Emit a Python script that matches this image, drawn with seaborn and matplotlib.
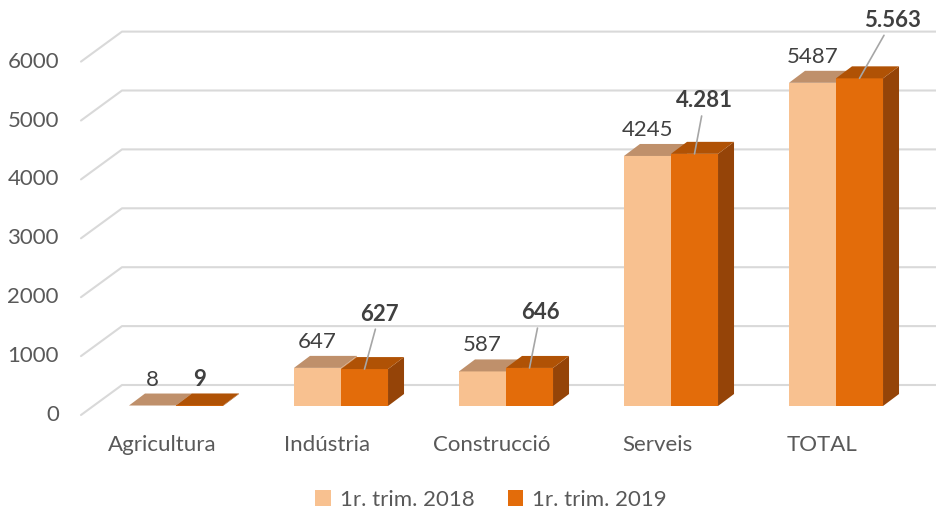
import numpy as np
import pandas as pd
import matplotlib
matplotlib.use("Agg")
import matplotlib.pyplot as plt
from matplotlib.patches import Polygon
import seaborn as sns

sectors = ["Agricultura", "Indústria", "Construcció", "Serveis", "TOTAL"]
periods = ["1r. trim. 2018", "1r. trim. 2019"]
values_2018 = [8, 647, 587, 4245, 5487]
values_2019 = [9, 627, 646, 4281, 5563]
labels_2018 = ["8", "647", "587", "4245", "5487"]
labels_2019 = ["9", "627", "646", "4.281", "5.563"]
yticks = [0, 1000, 2000, 3000, 4000, 5000, 6000]

front_colors = ["#F8C190", "#E36C0A"]
top_colors = ["#BF906B", "#B05205"]
side_colors = ["#D9A070", "#954408"]
# label offsets (pixels) for the 2019 labels, as placed by hand in the original
label_shift_2019 = [(0, 26), (15, 55), (11, 55), (10, 53), (33, 58)]

df = pd.DataFrame({
    "sector": sectors * 2,
    "period": [periods[0]] * len(sectors) + [periods[1]] * len(sectors),
    "value": values_2018 + values_2019,
})

sns.set_theme(style="white")
plt.rcParams["font.family"] = ["Lato", "DejaVu Sans"]

DPI = 100
FS = 16
fig = plt.figure(figsize=(9.36, 5.16), dpi=DPI)
ax = fig.add_axes([77 / 936, 110 / 516, 858 / 936, 353.4 / 516])
sns.barplot(data=df, x="sector", y="value", hue="period", order=sectors,
            hue_order=periods, palette=front_colors, width=0.57,
            saturation=1, linewidth=0, ax=ax)
ax.set_xlim(-0.6, 4.6)
ax.set_ylim(0, 6000)
ax.axis("off")

# pixel -> data unit conversion
p0 = ax.transData.transform((0, 0))
p1 = ax.transData.transform((1, 1000))
ux = p1[0] - p0[0]
uy = (p1[1] - p0[1]) / 1000
dx, dy = 16 / ux, 12 / uy
xl, xr = ax.get_xlim()

# back wall gridlines with the 3D floor diagonal
for t in yticks:
    xs = [xl + 4 / ux, xl + 45 / ux, xr + 1 / ux]
    ys = [t - 9 / uy, t + 21 / uy, t + 21 / uy]
    ax.plot(xs, ys, color="#D9D9D9", lw=1.5, zorder=0, clip_on=False)
    ax.text(xl - 18 / ux, t - 9 / uy, str(t), ha="right", va="center",
            fontsize=FS, color="#595959")

for i, name in enumerate(sectors):
    ax.text(i - 14 / ux, -39 / uy, name, ha="center", va="center",
            fontsize=FS, color="#595959")

# 3D faces on each bar
for k, cont in enumerate(ax.containers):
    for bar in cont:
        bar.set_zorder(2 + k)
        x, w, h = bar.get_x(), bar.get_width(), bar.get_height()
        top = [(x, h), (x + w, h), (x + w + dx, h + dy), (x + dx, h + dy)]
        side = [(x + w, 0), (x + w + dx, dy), (x + w + dx, h + dy), (x + w, h)]
        ax.add_patch(Polygon(side, closed=True, facecolor=side_colors[k],
                             lw=0, zorder=2 + k + 0.1, clip_on=False))
        ax.add_patch(Polygon(top, closed=True, facecolor=top_colors[k],
                             lw=0, zorder=2 + k + 0.2, clip_on=False))

# value labels
for bar, lab in zip(ax.containers[0], labels_2018):
    ax.annotate(lab, xy=(bar.get_x() + bar.get_width() / 2, bar.get_height()),
                xytext=(0, 26), textcoords="offset pixels", ha="center",
                va="center", fontsize=FS, color="#404040", zorder=6)

for bar, lab, (sx, sy) in zip(ax.containers[1], labels_2019, label_shift_2019):
    arrow = None
    if sy > 30:
        arrow = dict(arrowstyle="-", color="#A6A6A6", lw=1.2,
                     shrinkA=1, shrinkB=0)
    ax.annotate(lab, xy=(bar.get_x() + bar.get_width() / 2, bar.get_height()),
                xytext=(sx, sy), textcoords="offset pixels", ha="center",
                va="center", fontsize=FS, fontweight="bold", color="#404040",
                arrowprops=arrow, zorder=6)

sns.move_legend(ax, "center", bbox_to_anchor=(491 / 936, 16 / 516),
                bbox_transform=fig.transFigure, ncol=2, frameon=False,
                title=None, fontsize=FS, handlelength=0.7, handleheight=0.7,
                columnspacing=1.5, handletextpad=0.4, labelcolor="#595959")

fig.savefig("out.png", dpi=DPI, facecolor="white")
